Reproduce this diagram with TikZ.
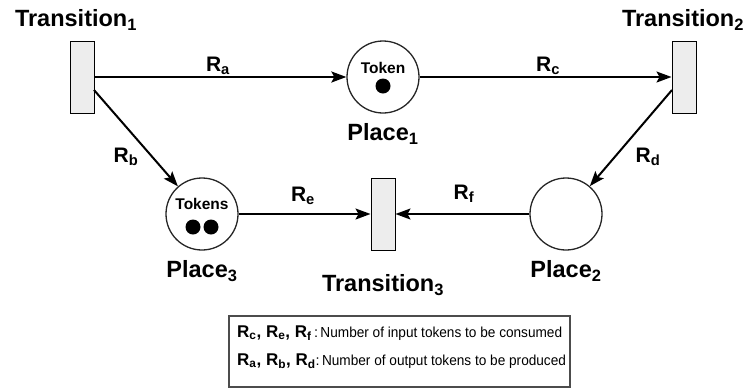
\documentclass[tikz,border=0pt]{standalone}
\usepackage{fontspec}
\setmainfont{Liberation Sans}
\usetikzlibrary{arrows.meta}
\newcommand{\lsub}[1]{\textsubscript{#1}}
\newcommand{\legR}[1]{{\fontsize{17}{17}\selectfont\bfseries #1}}
\begin{document}
\begin{tikzpicture}[x=1pt,y=-1pt,
  trans/.style={draw=black,line width=1pt,fill=black!7,minimum width=24pt,minimum height=72pt,inner sep=0pt},
  place/.style={draw=black!85,line width=1.3pt,circle,minimum size=72pt,inner sep=0pt},
  tok/.style={fill=black,circle,minimum size=15pt,inner sep=0pt},
  bigl/.style={font=\fontsize{23.5}{26}\selectfont\bfseries,inner sep=0pt},
  arcl/.style={font=\fontsize{21}{24}\selectfont\bfseries,inner sep=0pt},
  tokl/.style={font=\fontsize{15.5}{17}\selectfont\bfseries,inner sep=0pt},
  legt/.style={anchor=west,inner sep=0pt,font=\fontsize{14.5}{17}\selectfont},
  arc/.style={line width=2pt,-{Stealth[length=15pt,width=11pt,inset=3pt]}}]
\useasboundingbox (0,0) rectangle (755,389);
% transitions
\node[trans] (T1) at (82,77) {};
\node[trans] (T2) at (684,77) {};
\node[trans] (T3) at (383,214) {};
\node[bigl] (T1l) at (76,20) {Transition\lsub{1}};
\node[bigl] (T2l) at (683,20) {Transition\lsub{2}};
\node[bigl] (T3l) at (383,285) {Transition\lsub{3}};
% places
\node[place] (P1) at (383,77) {};
\node[place] (P2) at (566,214) {};
\node[place] (P3) at (202,214) {};
\node[bigl] (P1l) at (383,134) {Place\lsub{1}};
\node[bigl] (P2l) at (566,271) {Place\lsub{2}};
\node[bigl] (P3l) at (202,271) {Place\lsub{3}};
\node[tokl] (P1t) at (383,68) {Token};
\node[tok] (d1) at (383,86) {};
\node[tokl] (P3t) at (202,204) {Tokens};
\node[tok] (d2) at (193,227) {};
\node[tok] (d3) at (211,227) {};
% arcs
\coordinate (t1a) at (94,90);
\coordinate (t2a) at (672,90);
\draw[arc] (T1.east) -- (P1.west);
\draw[arc] (P1.east) -- (T2.west);
\draw[arc] (t2a) -- (P2);
\draw[arc] (t1a) -- (P3);
\draw[arc] (P3.east) -- (T3.west);
\draw[arc] (P2.west) -- (T3.east);
\node[arcl] (la) at (218,66) {R\lsub{a}};
\node[arcl] (lc) at (548,66) {R\lsub{c}};
\node[arcl] (ld) at (648,157) {R\lsub{d}};
\node[arcl] (lb) at (126,157) {R\lsub{b}};
\node[arcl] (le) at (303,196) {R\lsub{e}};
\node[arcl] (lf) at (464,194) {R\lsub{f}};
% legend
\node[draw=black!70,line width=1.2pt,minimum width=341pt,minimum height=71pt,inner sep=0pt] (leg) at (399.5,351.5) {};
\node[legt] (leg1) at (237,333) {\legR{R\lsub{c}, R\lsub{e}, R\lsub{f}}\,:\,\scalebox{0.94}[1]{Number of input tokens to be consumed}};
\node[legt] (leg2) at (237,361) {\legR{R\lsub{a}, R\lsub{b}, R\lsub{d}}:\,\scalebox{0.94}[1]{Number of output tokens to be produced}};
\end{tikzpicture}
\end{document}
